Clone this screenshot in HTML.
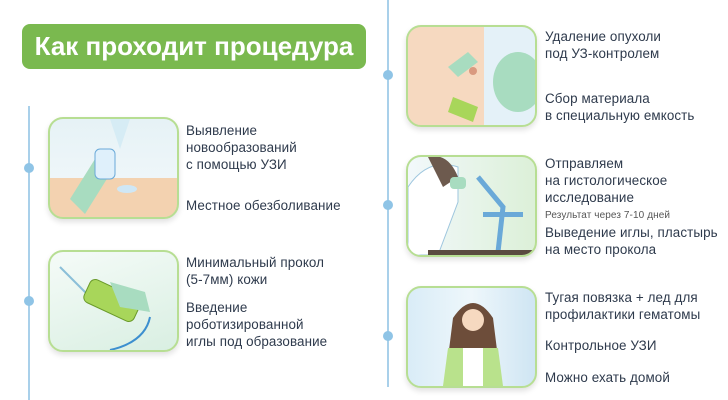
<!DOCTYPE html>
<html><head><meta charset="utf-8"><style>
body{margin:0;width:728px;height:400px;background:#fff;position:relative;overflow:hidden;font-family:"Liberation Sans","Noto Sans CJK SC",sans-serif;color:#2e3a4c}
.t{position:absolute;background:#7ab94f;border-radius:8px;left:22px;top:24px;width:344px;height:45px;color:#fff;font-weight:bold;font-size:26px;line-height:45px;text-align:center}
.vl{position:absolute;width:2px;background:#a9d0ea}
.dot{position:absolute;width:10px;height:10px;border-radius:50%;background:#8fc4e6}
.c{position:absolute;width:127px;height:98px;border:2px solid #b7de93;border-radius:15px;overflow:hidden;box-shadow:0 3px 6px rgba(0,0,0,.12)}
.x{position:absolute;font-size:13.4px;line-height:17px;white-space:nowrap;letter-spacing:0.1px}
.s{font-size:10px;color:#555}
</style></head><body>
<div class="t">Как проходит процедура</div>
<div class="vl" style="left:28px;top:106px;height:294px"></div>
<div class="dot" style="left:24px;top:163px"></div>
<div class="dot" style="left:24px;top:296px"></div>
<div class="vl" style="left:387px;top:0;height:387px"></div>
<div class="dot" style="left:383px;top:70px"></div>
<div class="dot" style="left:383px;top:200px"></div>
<div class="dot" style="left:383px;top:331px"></div>

<div class="c" style="left:48px;top:117px;background:linear-gradient(#e6f2f6 0,#eef6f9 60%,#f3d2b0 60%)">
<svg width="127" height="98"><path d="M20 80 L45 40 L60 55 L35 95Z" fill="#a8dcc0"/><rect x="45" y="30" width="20" height="30" rx="5" fill="#dff0fb" stroke="#6aa9d8"/><ellipse cx="77" cy="70" rx="10" ry="4" fill="#cfe7f5"/><path d="M60 0 L70 30 L80 0" fill="#d6ecf5"/></svg></div>
<div class="c" style="left:48px;top:250px;background:linear-gradient(160deg,#f5fbf8,#d9efe2)">
<svg width="127" height="98"><path d="M10 15 L40 45" stroke="#8bbfd8" stroke-width="2"/><rect x="35" y="35" width="55" height="25" rx="6" transform="rotate(25 60 47)" fill="#a8d65a" stroke="#6a9a2a"/><path d="M60 30 L95 40 L100 60 L70 55Z" fill="#a8dcc0"/><path d="M100 65 Q95 90 60 98" stroke="#3d8fcf" stroke-width="2" fill="none"/></svg></div>
<div class="c" style="left:406px;top:25px;background:linear-gradient(90deg,#f6d9c0 0,#f6d9c0 60%,#e4f1f8 60%)">
<svg width="127" height="98"><circle cx="65" cy="44" r="4" fill="#d99a80"/><path d="M40 40 L60 25 L70 35 L50 50Z" fill="#a8dcc0"/><path d="M45 70 L70 80 L65 95 L40 85Z" fill="#a8d65a"/><ellipse cx="110" cy="55" rx="25" ry="30" fill="#a8dcc0"/></svg></div>
<div class="c" style="left:406px;top:155px;background:linear-gradient(90deg,#f2f8fb,#dcf0d8)">
<svg width="127" height="98"><path d="M0 30 Q20 0 50 10 L50 45 L30 98 L0 98Z" fill="#fff" stroke="#9ec6de"/><path d="M20 0 Q40 -5 50 20 L35 30Z" fill="#6d5a4e"/><rect x="42" y="20" width="16" height="12" rx="4" fill="#a8dcc0"/><path d="M70 20 L95 50 L90 95" stroke="#6aa9d8" stroke-width="5" fill="none"/><rect x="75" y="55" width="40" height="5" fill="#6aa9d8"/><rect x="20" y="93" width="107" height="5" fill="#5a4a40"/></svg></div>
<div class="c" style="left:406px;top:286px;background:linear-gradient(90deg,#d9ecf7,#eef7fb,#cfe5f3)">
<svg width="127" height="98"><path d="M45 30 Q65 0 85 30 L90 70 L40 70Z" fill="#6d4d3a"/><circle cx="65" cy="32" r="11" fill="#f6d9c0"/><path d="M40 60 L90 60 L95 98 L35 98Z" fill="#b9e28c"/><rect x="55" y="60" width="20" height="38" fill="#fff"/></svg></div>

<div class="x" style="left:186px;top:122px">Выявление<br>новообразований<br>с помощью УЗИ</div>
<div class="x" style="left:186px;top:197px">Местное обезболивание</div>
<div class="x" style="left:186px;top:254px">Минимальный прокол<br>(5-7мм) кожи</div>
<div class="x" style="left:186px;top:299px">Введение<br>роботизированной<br>иглы под образование</div>

<div class="x" style="left:545px;top:28px">Удаление опухоли<br>под УЗ-контролем</div>
<div class="x" style="left:545px;top:90px">Сбор материала<br>в специальную емкость</div>
<div class="x" style="left:545px;top:155px">Отправляем<br>на гистологическое<br>исследование</div>
<div class="x s" style="left:545px;top:207px">Результат через 7-10 дней</div>
<div class="x" style="left:545px;top:224px">Выведение иглы, пластырь<br>на место прокола</div>
<div class="x" style="left:545px;top:289px">Тугая повязка + лед для<br>профилактики гематомы</div>
<div class="x" style="left:545px;top:337px">Контрольное УЗИ</div>
<div class="x" style="left:545px;top:369px">Можно ехать домой</div>
</body></html>
